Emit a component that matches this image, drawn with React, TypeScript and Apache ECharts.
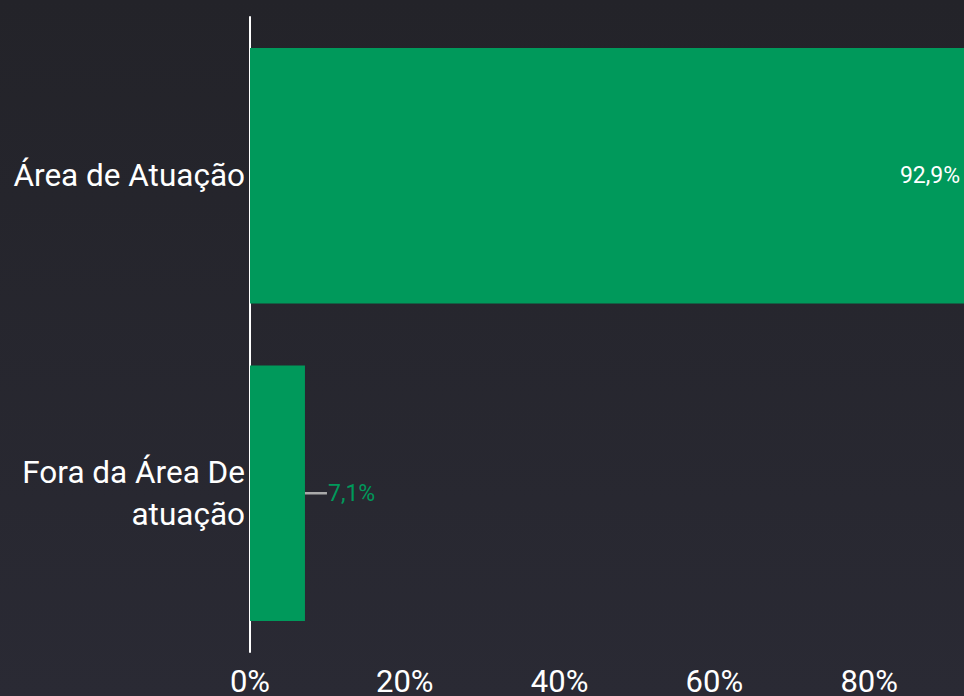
import React, { useEffect, useRef } from "react";
import * as echarts from "echarts";

const categories = ["Área de Atuação", "Fora da Área De\natuação"];
const values = [92.9, 7.1];
const xTicks = [0, 20, 40, 60, 80, 100];

export default function App() {
  const ref = useRef<HTMLDivElement>(null);
  useEffect(() => {
    if (!ref.current) return;
    const chart = echarts.init(ref.current, undefined, { renderer: "svg" });
    const green = "#00995b";
    chart.setOption({
      animation: false,
      backgroundColor: {
        type: "linear",
        x: 0,
        y: 0,
        x2: 0,
        y2: 1,
        colorStops: [
          { offset: 0, color: "#232329" },
          { offset: 1, color: "#2a2a34" },
        ],
      },
      grid: { left: 250, right: 0, top: 17, bottom: 44, containLabel: false, outerBoundsMode: "none" },
      xAxis: {
        type: "value",
        min: xTicks[0],
        max: xTicks[xTicks.length - 1],
        interval: 20,
        axisLine: { show: false },
        axisTick: { show: false },
        splitLine: { show: false },
        axisLabel: {
          color: "#ffffff",
          fontFamily: "Roboto",
          fontSize: 31,
          margin: 14,
          formatter: (v: number) => `${v}%`,
        },
      },
      yAxis: {
        type: "category",
        data: categories,
        inverse: true,
        axisLine: { show: true, lineStyle: { color: "#ffffff", width: 2 } },
        axisTick: { show: false },
        axisLabel: {
          color: "#ffffff",
          fontFamily: "Roboto",
          fontSize: 31.5,
          lineHeight: 42,
          margin: 5,
          align: "right",
        },
      },
      series: [
        {
          type: "bar",
          barCategoryGap: "19.5%",
          itemStyle: { color: green },
          data: [
            {
              value: values[0],
              label: {
                show: true,
                position: "insideRight",
                distance: 9,
                color: "#ffffff",
                fontFamily: "Roboto",
                fontSize: 23,
                formatter: (p: any) => `${String(p.value).replace(".", ",")}%`,
              },
            },
            {
              value: values[1],
              label: {
                show: true,
                position: "right",
                distance: 23,
                color: green,
                fontFamily: "Roboto",
                fontSize: 23,
                formatter: (p: any) => `${String(p.value).replace(".", ",")}%`,
              },
            },
          ],
        },
      ],
    });
    const p0 = chart.convertToPixel({ xAxisIndex: 0, yAxisIndex: 0 }, [values[1], categories[1]]) as number[];
    chart.setOption({
      graphic: [
        {
          type: "line",
          shape: { x1: p0[0], y1: p0[1], x2: p0[0] + 22, y2: p0[1] },
          style: { stroke: "#aaaaaa", lineWidth: 2.5 },
          z: 10,
        },
      ],
    });
    return () => chart.dispose();
  }, []);
  return (
    <div style={{ position: "absolute", left: 0, top: 0, width: 964, height: 696, overflow: "hidden" }}>
      <div ref={ref} style={{ width: 1024, height: 696 }} />
    </div>
  );
}
